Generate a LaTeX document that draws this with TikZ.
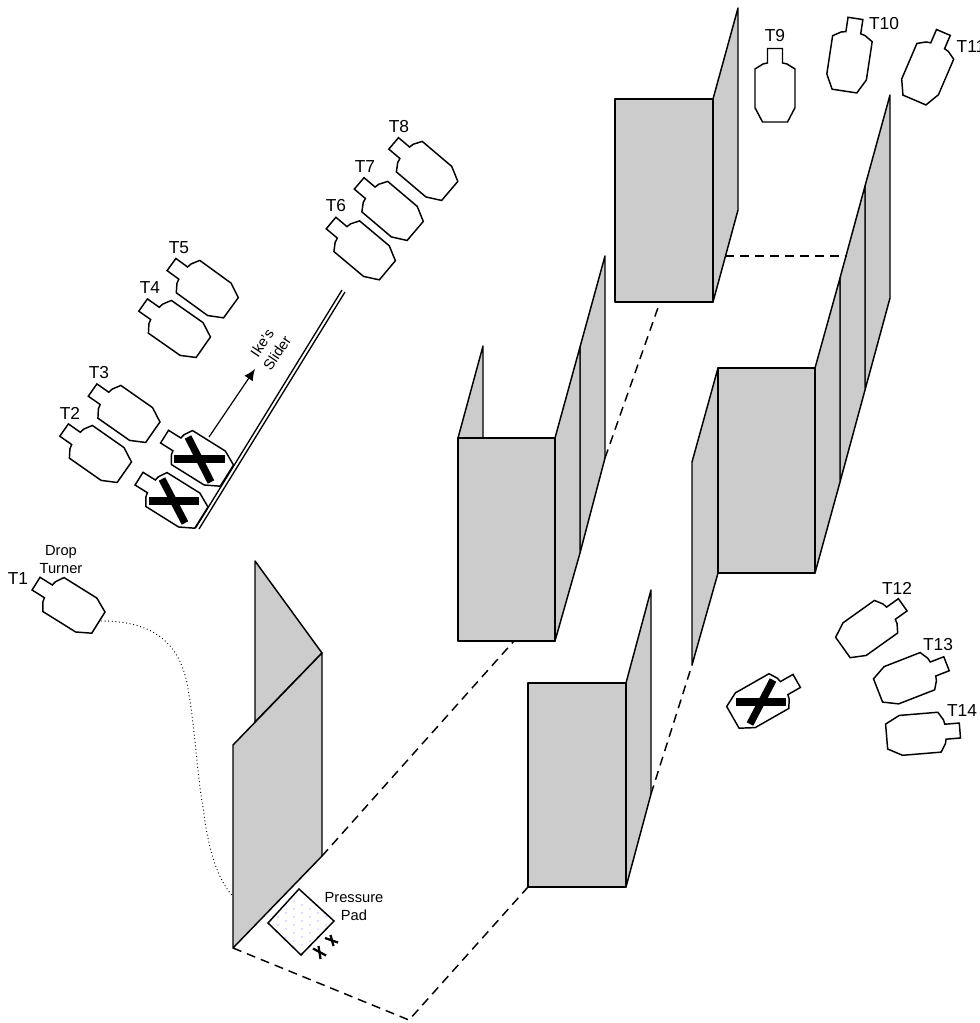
\documentclass[tikz,border=0pt]{standalone}
\usepackage{fontspec}
\setmainfont{Liberation Sans}
\usetikzlibrary{arrows.meta}
\tikzset{
  wall/.style={draw,fill=gray!40,line width=1.1pt,line join=round},
  route/.style={line width=1.1pt,dash pattern=on 6.75pt off 4.5pt},
  tlabel/.style={font=\fontsize{13}{15}\selectfont,inner sep=0pt},
  slabel/.style={font=\fontsize{11}{13.5}\selectfont,inner sep=0pt,align=center},
  bar/.style={line width=5.5pt},
  pics/target/.style={code={
    \draw[line width=1.1pt,fill=white] (-7.5,-36.5) -- (7.5,-36.5) -- (7.5,-22) -- (12,-21) -- (20,-16)
      -- (20,22.7) -- (12.5,37) -- (-12.5,37) -- (-20,22.7) -- (-20,-16) -- (-12,-21) -- (-7.5,-22) -- cycle;
  }},
}
\begin{document}
\begin{tikzpicture}[x=0.75pt,y=-0.75pt]
  \useasboundingbox (0,0) rectangle (980,1023);
  % corners the dashed route runs through
  \coordinate (Etop) at (322,856);
  \coordinate (Ebot) at (233,948);
  \coordinate (Low) at (409,1020);
  \coordinate (Dbot) at (528,887);
  \coordinate (Bbot) at (514,641);
  \coordinate (Bend) at (605,458);
  \coordinate (Abot) at (660,302);
  \coordinate (Dend) at (651,794);
  \coordinate (Cbot) at (692,665);
  \coordinate (Aside) at (725,256);
  \coordinate (Cside) at (847,256);
  % walls
  \draw[wall] (255,561) -- (322,653) -- (255,722) -- cycle;
  \draw[wall] (Ebot) -- (233,745) -- (322,653) -- (Etop) -- cycle;
  \draw[wall] (458,438) -- (483,346) -- (483,438) -- cycle;
  \draw[wall] (580,347) -- (605,256) -- (Bend) -- (580,553) -- cycle;
  \draw[wall] (555,438) -- (580,347) -- (580,553) -- (555,641) -- cycle;
  \draw[wall] (458,438) rectangle (555,641);
  \draw[wall] (713,99) -- (738,8) -- (738,210) -- (713,302) -- cycle;
  \draw[wall] (615,99) rectangle (713,302);
  \draw[wall] (865,186) -- (890,95) -- (890,298) -- (865,390) -- cycle;
  \draw[wall] (840,278) -- (865,186) -- (865,390) -- (840,482) -- cycle;
  \draw[wall] (815,368) -- (840,278) -- (840,482) -- (815,573) -- cycle;
  \draw[wall] (718,368) -- (692,462) -- (Cbot) -- (718,573) -- cycle;
  \draw[wall] (718,368) rectangle (815,573);
  \draw[wall] (626,683) -- (651,590) -- (Dend) -- (626,887) -- cycle;
  \draw[wall] (528,683) rectangle (626,887);
  % route
  \draw[route] (Ebot) -- (Low) -- (Dbot);
  \draw[route] (Etop) -- (Bbot);
  \draw[route] (Bend) -- (Abot);
  \draw[route] (Dend) -- (Cbot);
  \draw[route] (Aside) -- (Cside);
  % slider
  \coordinate (SlideA) at (195.5,528);
  \coordinate (SlideB) at (342,290);
  \coordinate (SlideC) at (199,529);
  \coordinate (SlideD) at (345,292);
  \draw[line width=1pt] (SlideA) -- (SlideB);
  \draw[line width=1pt] (SlideC) -- (SlideD);
  \coordinate (ArrowA) at (209,437);
  \coordinate (ArrowB) at (255,369);
  \draw[line width=0.9pt,-{Latex[length=8.5pt,width=7.5pt]}] (ArrowA) -- (ArrowB);
  \node[slabel,rotate=56] (slidertext) at (269.5,348) {Ike's\\Slider};
  % targets
  \foreach \name/\xpos/\ypos/\angle in {t1/67/603/58, t2/94/451/55, t3/122.5/411/55, t4/173/326/55,
    t5/201/286/54, t6/359/246.5/50, t7/387/207/49.7, t8/421.5/167/49.7, t9/775/85/0, t10/850/54.5/-8.6,
    t11/929/66/-23.2, t12/873/626/-54.5, t13/912.5/677/-68.7, t14/923.5/733.5/-85.3,
    xa/195.5/456/58, xb/170/498/58, xc/765/699/-60.3}
    \pic (\name) at (\xpos,\ypos) [rotate=\angle] {target};
  % crossed out
  \draw[bar] (174,459) -- (225,459);
  \draw[bar] (188,437) -- (211,482);
  \draw[bar] (149,501) -- (199,501);
  \draw[bar] (162,479) -- (185,523);
  \draw[bar] (736,702) -- (786,702);
  \draw[bar] (773,680) -- (750,724);
  % labels
  \foreach \name/\xpos/\ypos/\txt in {T1/18/579/T1, T2/70/413/T2, T3/99/373/T3, T4/150/288/T4, T5/179/248/T5,
    T6/336/206/T6, T7/365/167/T7, T8/399/127/T8, T9/775/36/T9, T10/884/24/T10, T11/971/47/T11,
    T12/897/588/T12, T13/938/645/T13, T14/962/711/T14}
    \node[tlabel] (\name) at (\xpos,\ypos) {\txt};
  \node[slabel] (dropturner) at (61,560) {Drop\\Turner};
  % turner line
  \coordinate (TurnA) at (101,621);
  \coordinate (TurnB) at (232,895);
  \draw[line width=0.7pt,dotted] (TurnA) .. controls (150,621) and (178,640) .. (187,683)
    .. controls (195,725) and (197,775) .. (203,807)
    .. controls (208,850) and (218,880) .. (TurnB);
  % pad
  \coordinate (PadN) at (299,889);
  \coordinate (PadE) at (334,921);
  \coordinate (PadS) at (301,955);
  \coordinate (PadW) at (268,923);
  \begin{scope}
    \clip (PadN) -- (PadE) -- (PadS) -- (PadW) -- cycle;
    \foreach \i in {0,...,10}
      \foreach \j in {0,...,9}
        \fill[blue!50!white] (262+8*\i,885+8*\j+4*\i) circle (0.5pt);
  \end{scope}
  \draw[line width=1.1pt] (PadN) -- (PadE) -- (PadS) -- (PadW) -- cycle;
  \node[slabel] (padtext) at (354,907) {Pressure\\Pad};
  \draw[line width=1.7pt] (313,948.5) -- (326,955.5);
  \draw[line width=1.7pt] (318.5,946) -- (320.5,959);
  \draw[line width=1.7pt] (325,938) -- (338,942.5);
  \draw[line width=1.7pt] (330.5,935) -- (333.5,946);
\end{tikzpicture}
\end{document}
